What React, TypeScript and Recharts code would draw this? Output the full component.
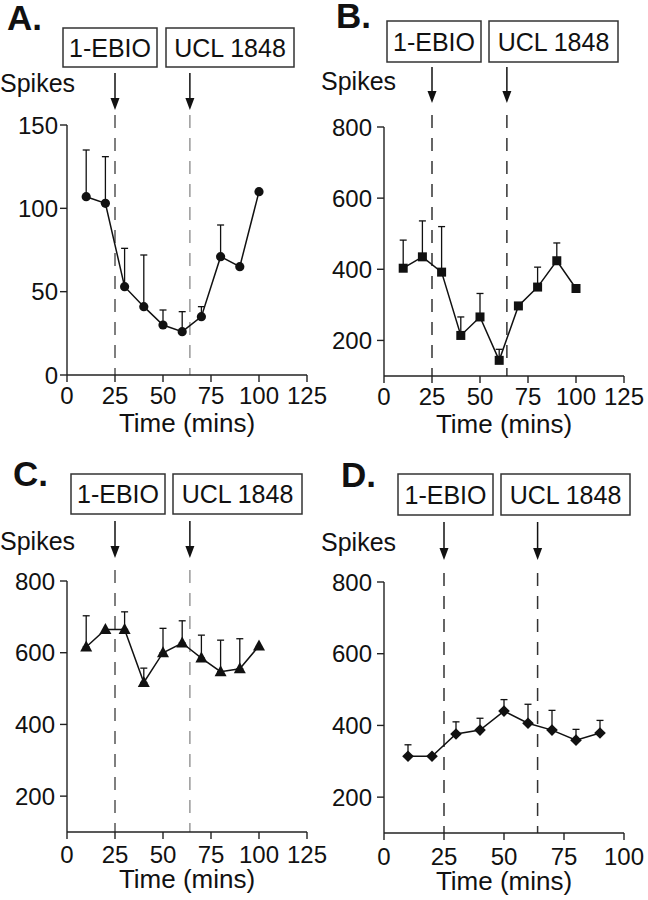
import React from 'react'
import { LineChart, Line, XAxis, YAxis, ErrorBar, ReferenceLine } from 'recharts'

// time points (mins)
const time = [10, 20, 30, 40, 50, 60, 70, 80, 90, 100]
const timeD = [10, 20, 30, 40, 50, 60, 70, 80, 90]

// mean spikes + upper SEM (null = no visible bar)
const spikesA = [107, 103, 53, 41, 30, 26, 35, 71, 65, 110]
const semA = [28, 28, 23, 31, 9, 12, 6, 19, null, null]

const spikesB = [403, 435, 392, 214, 266, 144, 297, 350, 424, 346]
const semB = [79, 101, 128, 52, 66, 31, null, 56, 50, null]

const spikesC = [616, 665, 665, 517, 600, 627, 585, 547, 555, 619]
const semC = [87, null, 49, 40, 68, 62, 64, 88, 84, null]

const spikesD = [314, 314, 376, 387, 440, 406, 387, 359, 379]
const semD = [32, null, 34, 33, 32, 53, 55, 30, 35]

const ticksA = [0, 50, 100, 150]
const ticksSpikes = [200, 400, 600, 800]
const ticksTime = [0, 25, 50, 75, 100, 125]
const ticksTimeD = [0, 25, 50, 75, 100]

const drugOn = 25
const drugOff = 64

const FONT = 'Arial, "Liberation Sans", sans-serif'

const build = (t: number[], y: number[], sem: (number | null)[]) =>
  t.map((v, i) => ({ t: v, y: y[i], err: sem[i] ? [0, sem[i]] : null }))

const marker = (kind: string) => (p: any) => {
  const { cx, cy, index } = p
  if (cx == null || cy == null) return <g key={index} />
  if (kind === 'circle') return <circle key={index} cx={cx} cy={cy} r={4.6} fill="#111" />
  if (kind === 'square') return <rect key={index} x={cx - 4.5} y={cy - 4.5} width={9} height={9} fill="#111" />
  if (kind === 'triangle')
    return <path key={index} d={`M${cx},${cy - 6.5} L${cx + 6},${cy + 4.5} L${cx - 6},${cy + 4.5} Z`} fill="#111" />
  return <path key={index} d={`M${cx},${cy - 5.8} L${cx + 5.8},${cy} L${cx},${cy + 5.8} L${cx - 5.8},${cy} Z`} fill="#111" />
}

// dashed marker line with an arrow above the plot
const drugLine = (o: { tail: number; tip: number; dash: number; color: string }) => (p: any) => {
  const top = Math.min(p.y1, p.y2)
  const bottom = Math.max(p.y1, p.y2)
  const x = p.x1
  return (
    <g>
      <line x1={x} x2={x} y1={top - o.dash} y2={bottom} stroke={o.color} strokeWidth={1.5} strokeDasharray="13 10" />
      <line x1={x} x2={x} y1={top - o.tail} y2={top - o.tip - 10} stroke="#111" strokeWidth={1.5} />
      <path d={`M${x - 4.5},${top - o.tip - 12} L${x + 4.5},${top - o.tip - 12} L${x},${top - o.tip} Z`} fill="#111" />
    </g>
  )
}

type PanelProps = {
  left: number
  top: number
  width: number
  data: any[]
  yDomain: [number, number]
  yTicks: number[]
  xDomain: [number, number]
  xTicks: number[]
  margin: { top: number; right: number; bottom: number; left: number }
  yWidth: number
  xHeight: number
  yTickMargin: number
  xTickMargin: number
  shape: string
  arrow: { tail: number; tip: number; dash: number }
  colors: [string, string]
}

function Panel(p: PanelProps) {
  const tickStyle = { fontSize: 24, fill: '#111', fontFamily: FONT }
  return (
    <div style={{ position: 'absolute', left: p.left, top: p.top }}>
      <LineChart width={p.width} height={450} data={p.data} margin={p.margin}>
        <XAxis
          type="number"
          dataKey="t"
          domain={p.xDomain}
          ticks={p.xTicks}
          interval={0}
          tickSize={7}
          tickMargin={p.xTickMargin}
          tick={tickStyle}
          height={p.xHeight}
          axisLine={{ stroke: '#222', strokeWidth: 1.4 }}
          tickLine={{ stroke: '#222', strokeWidth: 1.4 }}
          label={{ value: 'Time (mins)', position: 'insideBottom', offset: 0, fontSize: 26, fill: '#111', fontFamily: FONT }}
        />
        <YAxis
          type="number"
          domain={p.yDomain}
          ticks={p.yTicks}
          interval={0}
          tickSize={7}
          tickMargin={p.yTickMargin}
          tick={tickStyle}
          width={p.yWidth}
          axisLine={{ stroke: '#222', strokeWidth: 1.4 }}
          tickLine={{ stroke: '#222', strokeWidth: 1.4 }}
        />
        <ReferenceLine x={drugOn} shape={drugLine({ ...p.arrow, color: p.colors[0] })} />
        <ReferenceLine x={drugOff} shape={drugLine({ ...p.arrow, color: p.colors[1] })} />
        <Line
          dataKey="y"
          stroke="#111"
          strokeWidth={1.5}
          dot={marker(p.shape)}
          activeDot={false}
          isAnimationActive={false}
        >
          <ErrorBar dataKey="err" direction="y" width={3.5} stroke="#111" strokeWidth={1.3} />
        </Line>
      </LineChart>
    </div>
  )
}

const boxes = [
  { x: 63, y: 28, w: 94, h: 39, text: '1-EBIO' },
  { x: 166, y: 28, w: 128, h: 39, text: 'UCL 1848' },
  { x: 387, y: 21, w: 94, h: 41, text: '1-EBIO' },
  { x: 489, y: 21, w: 129, h: 41, text: 'UCL 1848' },
  { x: 71, y: 474, w: 94, h: 40, text: '1-EBIO' },
  { x: 173, y: 474, w: 129, h: 40, text: 'UCL 1848' },
  { x: 398, y: 474, w: 95, h: 41, text: '1-EBIO' },
  { x: 501, y: 474, w: 129, h: 41, text: 'UCL 1848' },
]

const letters = [
  { x: 7, y: 30, text: 'A.' },
  { x: 336, y: 28, text: 'B.' },
  { x: 13, y: 486, text: 'C.' },
  { x: 341, y: 487, text: 'D.' },
]

const spikeLabels = [
  { x: 0, y: 92 },
  { x: 321, y: 90 },
  { x: 0, y: 550 },
  { x: 321, y: 551 },
]

export default function App() {
  return (
    <div style={{ position: 'absolute', left: 0, top: 0, width: 648, height: 900, background: '#fff', overflow: 'hidden' }}>
      <Panel
        left={0}
        top={0}
        width={340}
        data={build(time, spikesA, semA)}
        yDomain={[0, 150]}
        yTicks={ticksA}
        xDomain={[0, 125]}
        xTicks={ticksTime}
        margin={{ top: 125, right: 33, bottom: 18, left: 0 }}
        yWidth={67}
        xHeight={57}
        yTickMargin={2}
        xTickMargin={5}
        shape="circle"
        arrow={{ tail: 52, tip: 15, dash: 10 }}
        colors={['#555', '#999']}
      />
      <Panel
        left={324}
        top={0}
        width={324}
        data={build(time, spikesB, semB)}
        yDomain={[100, 800]}
        yTicks={ticksSpikes}
        xDomain={[0, 125]}
        xTicks={ticksTime}
        margin={{ top: 127, right: 24, bottom: 17, left: 0 }}
        yWidth={60}
        xHeight={57}
        yTickMargin={5}
        xTickMargin={5}
        shape="square"
        arrow={{ tail: 60, tip: 24, dash: 12 }}
        colors={['#333', '#333']}
      />
      <Panel
        left={0}
        top={450}
        width={340}
        data={build(time, spikesC, semC)}
        yDomain={[100, 800]}
        yTicks={ticksSpikes}
        xDomain={[0, 125]}
        xTicks={ticksTime}
        margin={{ top: 131, right: 33, bottom: 12, left: 0 }}
        yWidth={67}
        xHeight={56}
        yTickMargin={5}
        xTickMargin={7}
        shape="triangle"
        arrow={{ tail: 60, tip: 23, dash: 11 }}
        colors={['#555', '#999']}
      />
      <Panel
        left={324}
        top={450}
        width={324}
        data={build(timeD, spikesD, semD)}
        yDomain={[100, 800]}
        yTicks={ticksSpikes}
        xDomain={[0, 100]}
        xTicks={ticksTimeD}
        margin={{ top: 132, right: 24, bottom: 10, left: 0 }}
        yWidth={60}
        xHeight={57}
        yTickMargin={5}
        xTickMargin={8}
        shape="diamond"
        arrow={{ tail: 60, tip: 22, dash: 9 }}
        colors={['#333', '#333']}
      />
      <svg
        width={648}
        height={900}
        style={{ position: 'absolute', left: 0, top: 0, pointerEvents: 'none' }}
        fontFamily={FONT}
      >
        {letters.map((l) => (
          <text key={l.text} x={l.x} y={l.y} fontSize={35} fontWeight="bold" fill="#111">
            {l.text}
          </text>
        ))}
        {spikeLabels.map((s, i) => (
          <text key={i} x={s.x} y={s.y} fontSize={25} fill="#111">
            Spikes
          </text>
        ))}
        {boxes.map((b, i) => (
          <g key={i}>
            <rect x={b.x} y={b.y} width={b.w} height={b.h} fill="#fff" stroke="#333" strokeWidth={1.5} />
            <text x={b.x + b.w / 2} y={b.y + b.h / 2 + 9} fontSize={25} textAnchor="middle" fill="#111">
              {b.text}
            </text>
          </g>
        ))}
      </svg>
    </div>
  )
}
